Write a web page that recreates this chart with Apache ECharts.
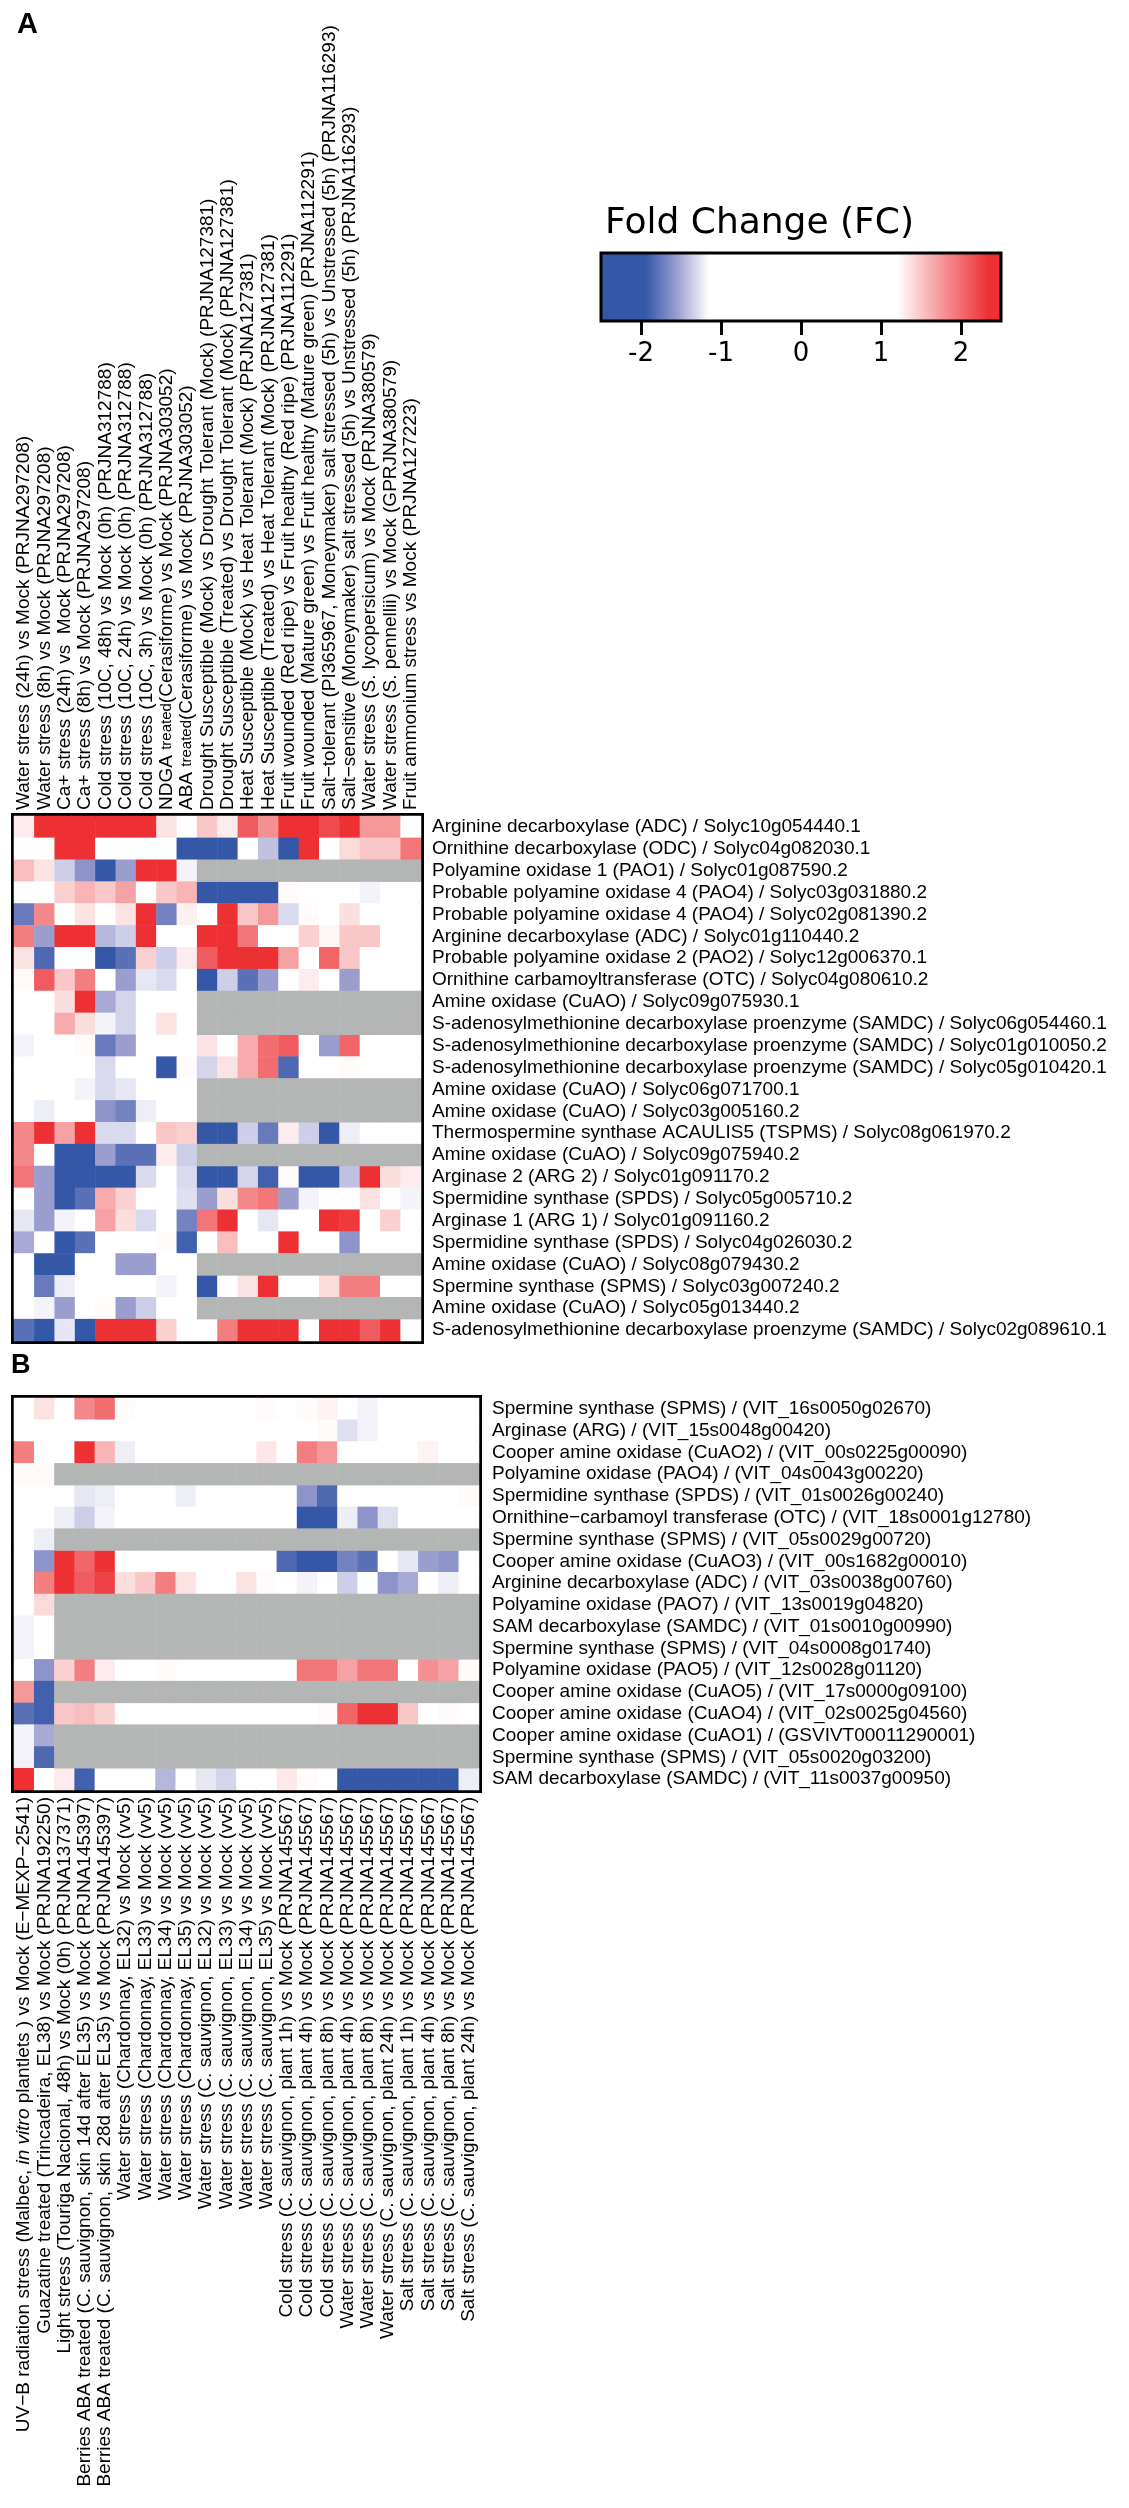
<!DOCTYPE html>
<html>
<head>
<meta charset="utf-8">
<script src="https://cdn.jsdelivr.net/npm/echarts@6/dist/echarts.min.js"></script>
<style>
html,body{margin:0;padding:0;background:#fff;}
#chart{width:1129px;height:2508px;}
</style>
</head>
<body>
<div id="chart"></div>
<script>
const _ = null; // not available (grey)

const colsA = [
  'Water stress (24h) vs Mock (PRJNA297208)',
  'Water stress (8h) vs Mock (PRJNA297208)',
  'Ca+ stress (24h) vs  Mock (PRJNA297208)',
  'Ca+ stress (8h) vs Mock (PRJNA297208)',
  'Cold stress (10C, 48h) vs Mock (0h) (PRJNA312788)',
  'Cold stress (10C, 24h) vs Mock (0h) (PRJNA312788)',
  'Cold stress (10C, 3h) vs Mock (0h) (PRJNA312788)',
  'NDGA treated(Cerasiforme) vs Mock (PRJNA303052)',
  'ABA treated(Cerasiforme) vs Mock (PRJNA303052)',
  'Drought Susceptible (Mock) vs Drought Tolerant (Mock) (PRJNA127381)',
  'Drought Susceptible (Treated) vs Drought Tolerant (Mock) (PRJNA127381)',
  'Heat Susceptible (Mock) vs Heat Tolerant (Mock) (PRJNA127381)',
  'Heat Susceptible (Treated) vs Heat Tolerant (Mock) (PRJNA127381)',
  'Fruit wounded (Red ripe) vs Fruit healthy (Red ripe) (PRJNA112291)',
  'Fruit wounded (Mature green) vs Fruit healthy (Mature green) (PRJNA112291)',
  'Salt\u2212tolerant (PI365967, Moneymaker) salt stressed (5h) vs Unstressed (5h) (PRJNA116293)',
  'Salt\u2212sensitive (Moneymaker) salt stressed (5h) vs Unstressed (5h) (PRJNA116293)',
  'Water stress (S. lycopersicum) vs Mock (PRJNA380579)',
  'Water stress (S. pennellii) vs Mock (GPRJNA380579)',
  'Fruit ammonium stress vs Mock (PRJNA127223)'
];

const rowsA = [
  'Arginine decarboxylase (ADC) / Solyc10g054440.1',
  'Ornithine decarboxylase (ODC) / Solyc04g082030.1',
  'Polyamine oxidase 1 (PAO1) / Solyc01g087590.2',
  'Probable polyamine oxidase 4 (PAO4) / Solyc03g031880.2',
  'Probable polyamine oxidase 4 (PAO4) / Solyc02g081390.2',
  'Arginine decarboxylase (ADC) / Solyc01g110440.2',
  'Probable polyamine oxidase 2 (PAO2) / Solyc12g006370.1',
  'Ornithine carbamoyltransferase (OTC) / Solyc04g080610.2',
  'Amine oxidase (CuAO) / Solyc09g075930.1',
  'S-adenosylmethionine decarboxylase proenzyme (SAMDC) / Solyc06g054460.1',
  'S-adenosylmethionine decarboxylase proenzyme (SAMDC) / Solyc01g010050.2',
  'S-adenosylmethionine decarboxylase proenzyme (SAMDC) / Solyc05g010420.1',
  'Amine oxidase (CuAO) / Solyc06g071700.1',
  'Amine oxidase (CuAO) / Solyc03g005160.2',
  'Thermospermine synthase ACAULIS5 (TSPMS) / Solyc08g061970.2',
  'Amine oxidase (CuAO) / Solyc09g075940.2',
  'Arginase 2 (ARG 2) / Solyc01g091170.2',
  'Spermidine synthase (SPDS) / Solyc05g005710.2',
  'Arginase 1 (ARG 1) / Solyc01g091160.2',
  'Spermidine synthase (SPDS) / Solyc04g026030.2',
  'Amine oxidase (CuAO) / Solyc08g079430.2',
  'Spermine synthase (SPMS) / Solyc03g007240.2',
  'Amine oxidase (CuAO) / Solyc05g013440.2',
  'S-adenosylmethionine decarboxylase proenzyme (SAMDC) / Solyc02g089610.1'
];

// fold change per row of panel A (one value per column of colsA)
const valuesA = [
  [1.3, 2.4, 2.4, 2.4, 2.4, 2.4, 2.4, 1.35, 0, 1.5, 1.3, 2.1, 1.8, 2.4, 2.4, 2.2, 2.4, 1.75, 1.75, 0],
  [0, 0, 2.4, 2.4, 0, 0, 0, 0, -2.3, -2.3, -2.3, 0, -1.4, -2.3, 2.4, 0, 1.4, 1.5, 1.5, 1.95],
  [1.55, 1.35, -1.35, -1.6, -2.0, -1.55, 2.4, 2.4, -1.2, _, _, _, _, _, _, _, _, _, _, _],
  [0, 0, 1.45, 1.6, 1.5, 1.7, 0, 1.5, 1.6, -2.3, -2.3, -1.95, -1.95, 1.22, 0, 0, 0, -1.2, 0, 0],
  [-1.75, 1.85, 0, 1.35, 0, 1.35, 2.4, -1.7, 1.28, 0, 2.4, 1.5, 1.75, -1.3, 1.22, 0, 1.38, 0, 0, 0],
  [1.9, -1.55, 2.4, 2.4, -1.45, -1.35, 2.4, 0, 0, 2.4, 2.4, 1.95, 0, 0, 1.45, 1.25, 1.5, 1.5, 0, 0],
  [1.35, -1.85, 0, 0, -2.2, -1.8, 1.45, -1.35, 1.3, 2.1, 2.4, 2.4, 2.4, 1.7, 0, 2.05, 1.5, 0, 0, 0],
  [1.22, 2.1, 1.5, 1.9, 0, -1.55, -1.25, -1.3, 0, -2.2, -1.35, -1.8, -1.55, 0, 1.3, 0, -1.55, 0, 0, 0],
  [0, 0, 1.38, 2.4, -1.5, -1.32, 0, 0, 0, _, _, _, _, _, _, _, _, _, _, _],
  [0, 0, 1.65, 1.38, -1.2, -1.32, 0, 1.35, 0, _, _, _, _, _, _, _, _, _, _, _],
  [-1.2, 0, 0, 1.22, -1.75, -1.55, 0, 0, 0, 1.35, 0, 1.65, 2.0, 2.1, 0, -1.55, 2.05, 0, 0, 0],
  [0, 0, 0, 0, -1.3, 0, 0, -1.95, 1.22, -1.32, 1.35, 1.65, 2.0, -1.85, 0, 0, 1.22, 0, 0, 0],
  [0, 0, 0, -1.2, -1.3, -1.25, 0, 0, 0, _, _, _, _, _, _, _, _, _, _, _],
  [0, -1.22, 0, 0, -1.6, -1.7, -1.22, 0, 0, _, _, _, _, _, _, _, _, _, _, _],
  [1.85, 2.4, 1.7, 2.4, -1.3, -1.3, 0, 1.5, 1.45, -2.3, -2.3, -1.35, -1.75, 1.3, -1.35, -2.3, -1.22, 0, 0, 0],
  [1.85, 0, -2.3, -2.1, -1.55, -1.8, -1.8, 1.3, -1.35, _, _, _, _, _, _, _, _, _, _, _],
  [1.95, -1.55, -2.3, -2.3, -2.3, -2.1, -1.3, 0, -1.3, -2.3, -2.3, -1.32, -1.9, 1.22, -2.1, -2.3, -1.4, 2.4, 1.38, 1.3],
  [0, -1.55, -2.3, -1.8, 1.65, 1.45, 0, 0, -1.28, -1.55, 1.38, 1.85, 1.95, -1.55, -1.2, 0, 0, 1.35, 0, -1.2],
  [-1.25, -1.55, -1.2, 0, 1.7, 1.38, -1.3, 0, -1.7, 1.95, 2.4, 0, -1.25, 0, 0, 2.4, 2.3, 0, 1.45, 0],
  [-1.5, 0, -2.3, -1.8, 0, 0, 0, 1.22, -1.9, 0, 1.55, 0, 0, 2.4, 0, 0, -1.6, 0, 0, 0],
  [0, -2.3, -2.3, 0, 0, -1.55, -1.55, 0, 0, _, _, _, _, _, _, _, _, _, _, _],
  [0, -1.75, -1.22, 0, 0, 0, 0, -1.2, 0, -2.3, 0, 1.35, 2.4, 0, 0, 1.4, 1.9, 1.9, 0, 0],
  [0, -1.2, -1.55, 0, 1.22, -1.55, -1.35, 0, 0, _, _, _, _, _, _, _, _, _, _, _],
  [-1.8, -2.3, -1.25, -2.3, 2.4, 2.4, 2.4, 1.45, 0, 0, 1.9, 2.4, 2.4, 2.4, 0, 2.4, 2.4, 2.1, 2.4, 0]
];

const colsB = [
  'UV\u2212B radiation stress (Malbec, in vitro plantlets ) vs Mock (E\u2212MEXP\u22122541)',
  'Guazatine treated (Trincadeira, EL38) vs Mock (PRJNA192250)',
  'Light stress (Touriga Nacional, 48h) vs Mock (0h) (PRJNA137371)',
  'Berries ABA treated (C. sauvignon, skin 14d after EL35) vs Mock (PRJNA145397)',
  'Berries ABA treated (C. sauvignon, skin 28d after EL35) vs Mock (PRJNA145397)',
  'Water stress (Chardonnay, EL32) vs Mock (vv5)',
  'Water stress (Chardonnay, EL33) vs Mock (vv5)',
  'Water stress (Chardonnay, EL34) vs Mock (vv5)',
  'Water stress (Chardonnay, EL35) vs Mock (vv5)',
  'Water stress (C. sauvignon, EL32) vs Mock (vv5)',
  'Water stress (C. sauvignon, EL33) vs Mock (vv5)',
  'Water stress (C. sauvignon, EL34) vs Mock (vv5)',
  'Water stress (C. sauvignon, EL35) vs Mock (vv5)',
  'Cold stress (C. sauvignon, plant 1h) vs Mock (PRJNA145567)',
  'Cold stress (C. sauvignon, plant 4h) vs Mock (PRJNA145567)',
  'Cold stress (C. sauvignon, plant 8h) vs Mock (PRJNA145567)',
  'Water stress (C. sauvignon, plant 4h) vs Mock (PRJNA145567)',
  'Water stress (C. sauvignon, plant 8h) vs Mock (PRJNA145567)',
  'Water stress (C. sauvignon, plant 24h) vs Mock (PRJNA145567)',
  'Salt stress (C. sauvignon, plant 1h) vs Mock (PRJNA145567)',
  'Salt stress (C. sauvignon, plant 4h) vs Mock (PRJNA145567)',
  'Salt stress (C. sauvignon, plant 8h) vs Mock (PRJNA145567)',
  'Salt stress (C. sauvignon, plant 24h) vs Mock (PRJNA145567)'
];

const rowsB = [
  'Spermine synthase (SPMS) / (VIT_16s0050g02670)',
  'Arginase (ARG) / (VIT_15s0048g00420)',
  'Cooper amine oxidase (CuAO2) / (VIT_00s0225g00090)',
  'Polyamine oxidase (PAO4) / (VIT_04s0043g00220)',
  'Spermidine synthase (SPDS) / (VIT_01s0026g00240)',
  'Ornithine\u2212carbamoyl transferase (OTC) / (VIT_18s0001g12780)',
  'Spermine synthase (SPMS) / (VIT_05s0029g00720)',
  'Cooper amine oxidase (CuAO3) / (VIT_00s1682g00010)',
  'Arginine decarboxylase (ADC) / (VIT_03s0038g00760)',
  'Polyamine oxidase (PAO7) / (VIT_13s0019g04820)',
  'SAM decarboxylase (SAMDC) / (VIT_01s0010g00990)',
  'Spermine synthase (SPMS) / (VIT_04s0008g01740)',
  'Polyamine oxidase (PAO5) / (VIT_12s0028g01120)',
  'Cooper amine oxidase (CuAO5) / (VIT_17s0000g09100)',
  'Cooper amine oxidase (CuAO4) / (VIT_02s0025g04560)',
  'Cooper amine oxidase (CuAO1) / (GSVIVT00011290001)',
  'Spermine synthase (SPMS) / (VIT_05s0020g03200)',
  'SAM decarboxylase (SAMDC) / (VIT_11s0037g00950)'
];

// fold change per row of panel B (one value per column of colsB)
const valuesB = [
  [0, 1.35, 0, 1.85, 2.0, 1.22, 0, 0, 0, 0, 0, 0, 1.22, 0, 1.22, 1.27, 0, -1.2, 0, 0, 0, 0, 0],
  [0, 0, 0, 0, 0, 0, 0, 0, 0, 0, 0, 0, 0, 0, 1.2, 1.22, -1.28, -1.2, 0, 0, 0, 0, 0],
  [1.9, 0, 0, 2.4, 1.6, -1.22, 0, 0, 0, 0, 0, 0, 1.32, 0, 1.9, 1.75, 0, 0, 0, 0, 1.27, 0, 0],
  [1.22, 1.22, _, _, _, _, _, _, _, _, _, _, _, _, _, _, _, _, _, _, _, _, _],
  [0, 0, 0, -1.25, -1.22, 0, 0, 0, -1.22, 0, 0, 0, 0, 0, -1.6, -1.85, 0, 0, 0, 0, 0, 0, 1.22],
  [0, 0, -1.22, -1.35, -1.2, 0, 0, 0, 0, 0, 0, 0, 0, 0, -2.0, -2.3, -1.22, -1.6, -1.28, 0, 0, 0, 0],
  [0, -1.22, _, _, _, _, _, _, _, _, _, _, _, _, _, _, _, _, _, _, _, _, _],
  [0, -1.6, 2.4, 2.05, 2.4, 0, 0, 0, 0, 0, 0, 0, 0, -1.85, -2.3, -2.3, -1.7, -1.8, 0, -1.25, -1.55, -1.6, 0],
  [0, 1.9, 2.4, 2.1, 2.25, 1.38, 1.5, 1.9, 1.35, 0, 0, 1.35, 1.22, 0, -1.2, 0, -1.35, 0, -1.6, -1.5, 0, -1.22, 0],
  [0, 1.4, _, _, _, _, _, _, _, _, _, _, _, _, _, _, _, _, _, _, _, _, _],
  [-1.2, 0, _, _, _, _, _, _, _, _, _, _, _, _, _, _, _, _, _, _, _, _, _],
  [-1.2, 0, _, _, _, _, _, _, _, _, _, _, _, _, _, _, _, _, _, _, _, _, _],
  [0, -1.6, 1.45, 1.9, 1.3, 0, 0, 1.22, 0, 0, 0, 0, 0, 0, 1.95, 1.95, 1.7, 1.95, 1.95, 0, 1.8, 1.7, 1.22],
  [1.75, -1.9, _, _, _, _, _, _, _, _, _, _, _, _, _, _, _, _, _, _, _, _, _],
  [-1.8, -1.9, 1.5, 1.55, 1.45, 0, 0, 0, 0, 0, 0, 0, 0, 0, 0, 1.22, 2.05, 2.4, 2.4, 1.5, 0, 1.22, 0],
  [-1.2, -1.5, _, _, _, _, _, _, _, _, _, _, _, _, _, _, _, _, _, _, _, _, _],
  [-1.2, -1.85, _, _, _, _, _, _, _, _, _, _, _, _, _, _, _, _, _, _, _, _, _],
  [2.4, 0, 1.3, -1.9, 0, 0, 0, -1.45, 0, -1.25, -1.32, 0, 0, 1.32, 1.22, 0, -2.3, -2.3, -2.3, -2.3, -2.3, -2.3, -1.22]
];

const legendTicks = [-2, -1, 0, 1, 2];
const fcMin = -2.5, fcMax = 2.5;

// ---- colour ramp (style) ----
const rampStops = [
  [-2.5, [52, 87, 168]], [-1.95, [52, 87, 168]], [-1.55, [155, 157, 207]],
  [-1.15, [255, 255, 255]], [1.2, [255, 255, 255]], [1.75, [245, 152, 154]],
  [2.35, [237, 48, 52]], [2.5, [237, 48, 52]]
];
function rampColor(v) {
  for (let i = 0; i < rampStops.length - 1; i++) {
    const a = rampStops[i], b = rampStops[i + 1];
    if (v >= a[0] && v <= b[0]) {
      const t = (v - a[0]) / (b[0] - a[0]);
      const c = a[1].map((x, k) => Math.round(x + (b[1][k] - x) * t));
      return 'rgb(' + c.join(',') + ')';
    }
  }
  return v < 0 ? 'rgb(52,87,168)' : 'rgb(237,48,52)';
}
const rampColors = [];
for (let k = 0; k <= 100; k++) rampColors.push(rampColor(fcMin + (fcMax - fcMin) * k / 100));

function cells(values) {
  const d = [];
  values.forEach((row, i) => row.forEach((v, j) => { if (v !== null) d.push([j, i, v]); }));
  return d;
}
function naCells(values) {
  const d = [];
  values.forEach((row, i) => row.forEach((v, j) => { if (v === null) d.push([j, i, 0]); }));
  return d;
}

const FONT = 'Liberation Sans, Arial, sans-serif';
const labelBase = { color: '#000', fontSize: 19, fontFamily: FONT };

const chart = echarts.init(document.getElementById('chart'), null, { renderer: 'canvas' });

const option = {
  backgroundColor: '#fff',
  animation: false,
  title: {
    text: 'Fold Change (FC)', left: 605, top: 206, padding: 0,
    textStyle: { fontSize: 36, fontWeight: 'normal', color: '#000', fontFamily: 'DejaVu Sans, sans-serif' }
  },
  graphic: [
    { type: 'text', left: 17, top: 10, style: { text: 'A', fontSize: 29, fontWeight: 'bold', fill: '#000', fontFamily: FONT } },
    { type: 'text', left: 11, top: 1352, style: { text: 'B', fontSize: 27, fontWeight: 'bold', fill: '#000', fontFamily: FONT } }
  ],
  visualMap: {
    type: 'continuous', min: fcMin, max: fcMax, seriesIndex: [0, 2],
    orient: 'horizontal', left: 601, top: 253, itemWidth: 68, itemHeight: 400,
    calculable: false, text: null, padding: 0, hoverLink: false, z: 1,
    inRange: { color: rampColors }
  },
  grid: [
    { left: 14, top: 816, width: 407, height: 525, show: true, borderColor: '#000', borderWidth: 6, backgroundColor: 'transparent' },
    { left: 14, top: 1398, width: 465, height: 392, show: true, borderColor: '#000', borderWidth: 6, backgroundColor: 'transparent' },
    { left: 601, top: 253, width: 400, height: 68, show: true, borderColor: '#000', borderWidth: 3, backgroundColor: 'transparent', z: 10 }
  ],
  xAxis: [
    {
      type: 'category', data: colsA, gridIndex: 0, position: 'top',
      axisLine: { show: false }, axisTick: { show: false }, splitLine: { show: false },
      axisLabel: Object.assign({}, labelBase, {
        // on a top axis ECharts flips the sign: -90 gives text reading bottom-to-top
        interval: 0, rotate: -90, margin: 6,
        formatter: function (v) {
          const m = v.match(/^(NDGA|ABA) treated(.*)$/);
          if (m) return '{n|' + m[1] + ' }{s|treated}{n|' + m[2] + '}';
          return '{n|' + v + '}';
        },
        rich: { n: labelBase, s: { color: '#000', fontSize: 15, fontFamily: FONT } }
      })
    },
    {
      type: 'category', data: colsB, gridIndex: 1, position: 'bottom',
      axisLine: { show: false }, axisTick: { show: false }, splitLine: { show: false },
      axisLabel: Object.assign({}, labelBase, {
        interval: 0, rotate: 90, margin: 7,
        formatter: function (v) {
          const p = v.split('in vitro');
          if (p.length === 2) return '{n|' + p[0] + '}{i|in vitro}{n|' + p[1] + '}';
          return '{n|' + v + '}';
        },
        rich: { n: labelBase, i: Object.assign({}, labelBase, { fontStyle: 'italic' }) }
      })
    },
    {
      type: 'value', gridIndex: 2, min: fcMin, max: fcMax, position: 'bottom',
      axisLine: { show: false }, splitLine: { show: false },
      axisTick: { show: true, customValues: legendTicks, length: 14, lineStyle: { color: '#000', width: 3 } },
      axisLabel: { customValues: legendTicks, margin: 20, fontSize: 26, color: '#000', fontFamily: 'DejaVu Sans, sans-serif' }
    }
  ],
  yAxis: [
    {
      type: 'category', data: rowsA, gridIndex: 0, position: 'right', inverse: true,
      axisLine: { show: false }, axisTick: { show: false }, splitLine: { show: false },
      axisLabel: Object.assign({}, labelBase, { interval: 0, margin: 11 })
    },
    {
      type: 'category', data: rowsB, gridIndex: 1, position: 'right', inverse: true,
      axisLine: { show: false }, axisTick: { show: false }, splitLine: { show: false },
      axisLabel: Object.assign({}, labelBase, { interval: 0, margin: 13 })
    },
    { type: 'value', gridIndex: 2, show: false, min: 0, max: 1 }
  ],
  series: [
    { name: 'A', type: 'heatmap', xAxisIndex: 0, yAxisIndex: 0, data: cells(valuesA), emphasis: { disabled: true } },
    { name: 'A-NA', type: 'heatmap', xAxisIndex: 0, yAxisIndex: 0, data: naCells(valuesA), itemStyle: { color: '#b4b5b5' }, emphasis: { disabled: true } },
    { name: 'B', type: 'heatmap', xAxisIndex: 1, yAxisIndex: 1, data: cells(valuesB), emphasis: { disabled: true } },
    { name: 'B-NA', type: 'heatmap', xAxisIndex: 1, yAxisIndex: 1, data: naCells(valuesB), itemStyle: { color: '#b4b5b5' }, emphasis: { disabled: true } }
  ]
};
chart.setOption(option);
</script>
</body>
</html>
